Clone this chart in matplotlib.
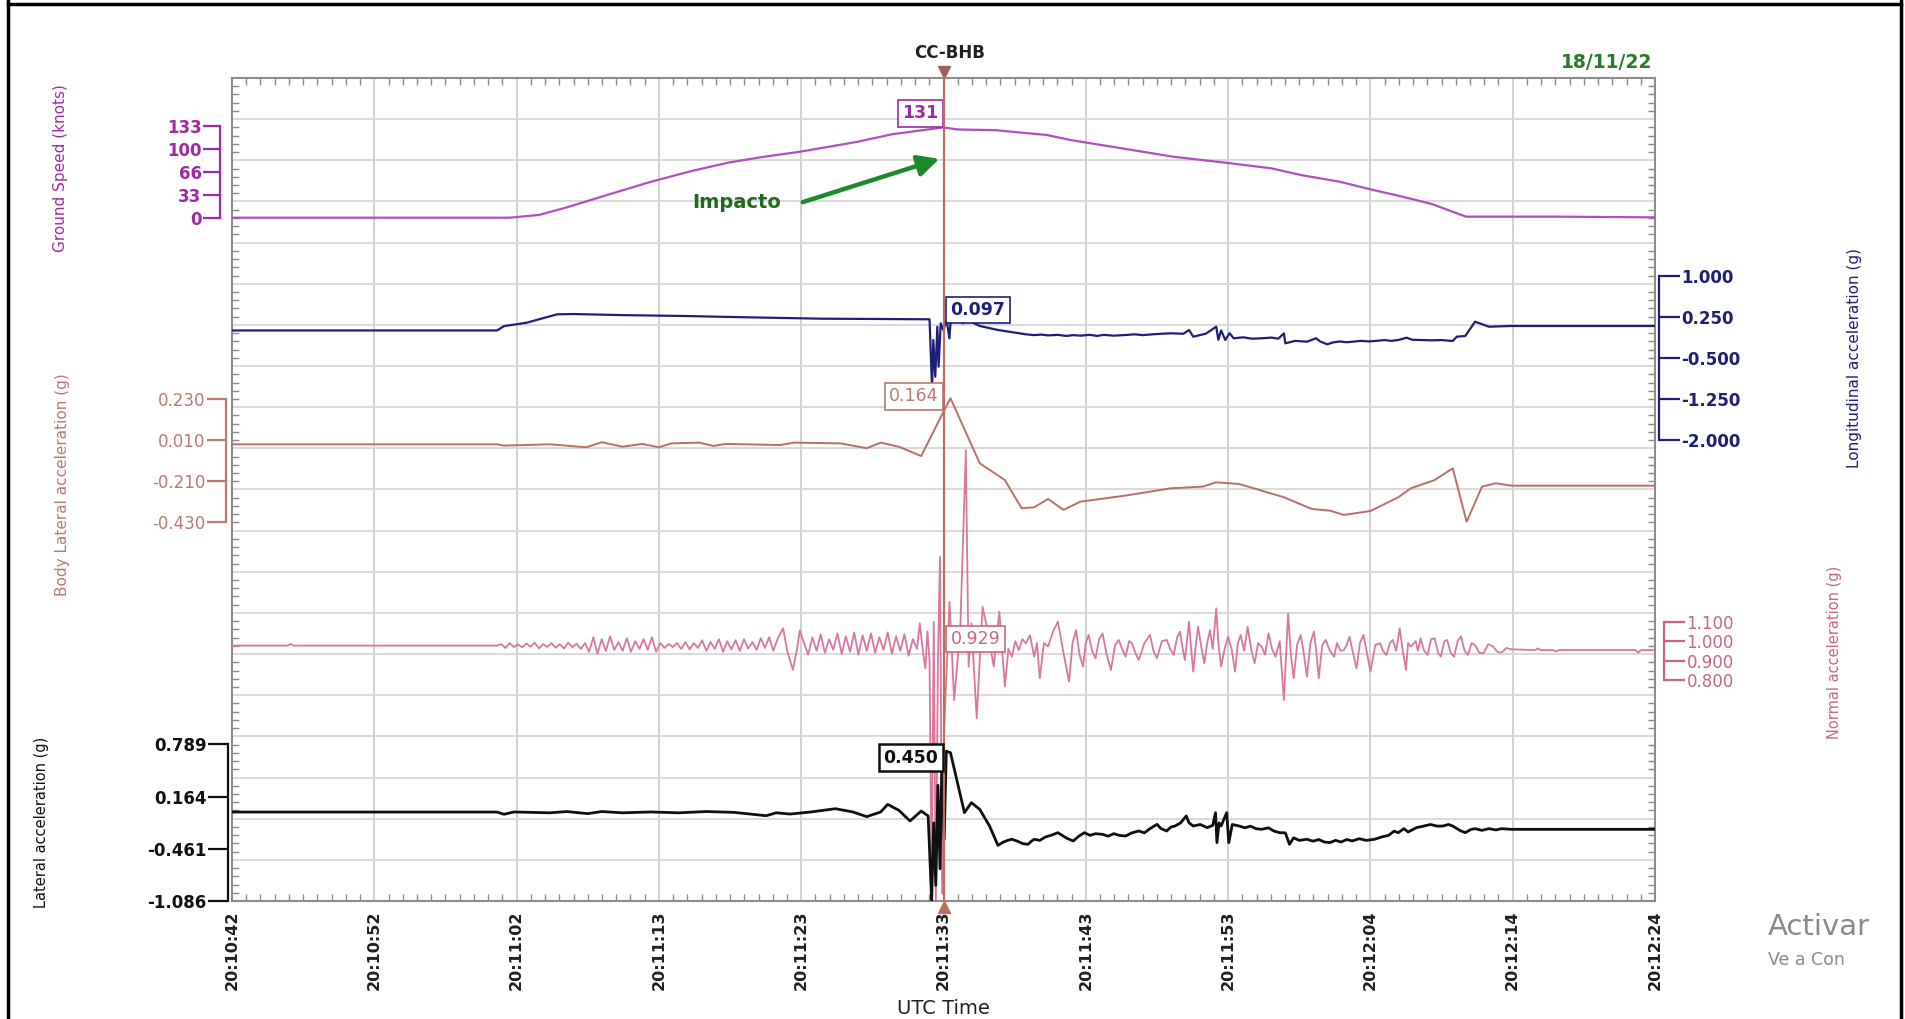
import numpy as np
import matplotlib
matplotlib.use('Agg')
import matplotlib.pyplot as plt
from matplotlib.ticker import MultipleLocator, NullLocator
from matplotlib.lines import Line2D
import matplotlib.transforms as mtransforms

W, H, DPI = 1905, 1019, 100

# ---------------- data ----------------
x_tick_pos = [0, 10.2, 20.4, 30.6, 40.8, 51.0, 61.2, 71.4, 81.6, 91.8, 102.0]
x_tick_labels = ['20:10:42', '20:10:52', '20:11:02', '20:11:13', '20:11:23', '20:11:33',
                 '20:11:43', '20:11:53', '20:12:04', '20:12:14', '20:12:24']
cursor_t = 51.0

gs_ticks = [0, 33, 66, 100, 133]
gs_t = [0, 19.9, 22, 24, 26.9, 30, 33, 35.6, 38, 40.7, 44.8, 47.3, 49.5, 51.0, 52.0, 54.7,
        58.4, 60.1, 63.8, 67.45, 71.6, 74.5, 76.6, 79.4, 81.8, 83.9, 86.0, 88.45, 95, 102]
gs_v = [0, 0, 4, 15, 33, 52, 68, 80, 88, 95.7, 110, 121, 127, 131, 128, 127,
        120, 112.7, 100.6, 88.5, 78.9, 71.6, 62, 52.2, 40.2, 30.5, 19.9, 1.5, 1.5, 0.5]

lon_ticks = [-2.0, -1.25, -0.5, 0.25, 1.0]
lon_t = [0, 19.0, 19.5, 21.1, 23.3, 24.5, 28, 32.5, 37, 42.3, 46, 50.0, 50.18, 50.27, 50.41,
         50.56, 50.65, 50.8, 50.99, 51.23, 51.42, 51.52, 51.95, 52.2, 52.4, 52.7, 53.6, 54.9,
         56.9, 57.5, 58.0, 58.5, 59.2, 59.8, 60.3, 60.8, 61.5, 62.0, 62.5, 63.2, 64.05, 64.7,
         65.3, 66, 66.6, 67.3, 68.2, 68.6, 68.9, 69.8, 70.55, 70.7, 70.9, 71.2, 71.5, 71.8,
         72.5, 73.1, 73.8, 74.5, 75.0, 75.4, 75.5, 76.2, 77.05, 77.7, 78.0, 78.5, 78.9, 79.4,
         79.9, 80.3, 80.9, 81.5, 82, 82.6, 83.1, 83.6, 84.2, 84.6, 85.2, 86.0, 86.7, 87.5,
         87.8, 88.4, 89.1, 90.1, 91.7, 102]
lon_v = [0.0, 0.0, 0.08, 0.14, 0.295, 0.30, 0.28, 0.264, 0.24, 0.215, 0.21, 0.204, -1.056,
         -0.174, -0.844, 0.069, -0.66, 0.131, 0.009, 0.19, -0.143, 0.19, 0.16, 0.19, 0.131,
         0.19, 0.082, 0.009, -0.070, -0.085, -0.075, -0.09, -0.08, -0.10, -0.085, -0.095,
         -0.08, -0.10, -0.08, -0.095, -0.083, -0.07, -0.085, -0.07, -0.06, -0.052, -0.06,
         0.009, -0.113, -0.06, 0.069, -0.17, 0.0, -0.174, -0.05, -0.143, -0.125, -0.15,
         -0.143, -0.13, -0.15, -0.052, -0.235, -0.19, -0.205, -0.143, -0.2, -0.253, -0.22,
         -0.2, -0.215, -0.205, -0.19, -0.2, -0.19, -0.175, -0.19, -0.174, -0.132, -0.17,
         -0.174, -0.18, -0.175, -0.192, -0.113, -0.101, 0.160, 0.069, 0.082, 0.082]

blat_ticks = [-0.43, -0.21, 0.01, 0.23]
blat_tick_labels = ['-0.430', '-0.210', '0.010', '0.230']
blat_t = [0, 19.0, 19.5, 22.8, 25.4, 26.5, 28.0, 29.4, 30.6, 31.5, 33.5, 34.5, 35.4, 39.3,
          40.3, 43.6, 45.5, 46.5, 47.8, 49.4, 51.0, 51.5, 53.6, 55.4, 56.6, 57.5, 58.5, 59.6,
          60.8, 64.05, 67.3, 69.6, 70.55, 72.2, 75.4, 77.4, 78.7, 79.7, 81.6, 83.6, 84.5,
          86.2, 87.5, 88.5, 89.6, 90.6, 91.7, 102]
blat_v = [-0.013, -0.013, -0.020, -0.013, -0.029, -0.002, -0.026, -0.011, -0.029, -0.008,
          -0.004, -0.022, -0.011, -0.017, -0.004, -0.008, -0.034, -0.004, -0.026, -0.076,
          0.162, 0.234, -0.115, -0.205, -0.356, -0.351, -0.306, -0.365, -0.321, -0.288,
          -0.249, -0.240, -0.217, -0.226, -0.297, -0.360, -0.369, -0.392, -0.371, -0.297,
          -0.249, -0.205, -0.142, -0.428, -0.240, -0.222, -0.235, -0.235]

nrm_ticks = [0.8, 0.9, 1.0, 1.1]
nrm_t = [0, 4.0, 4.2, 4.4, 19.0,
         19.3, 19.6, 19.9, 20.2, 20.5, 20.8, 21.1, 21.4, 21.7, 22.0, 22.3, 22.6, 22.9, 23.2,
         23.5, 23.8, 24.1, 24.4, 24.7, 25.0, 25.3,
         25.6, 25.9, 26.2, 26.5, 26.8, 27.1, 27.4, 27.7, 28.0, 28.3, 28.6, 28.9, 29.2, 29.5,
         29.8, 30.1, 30.4, 30.7, 31.0, 31.3, 31.6, 31.9, 32.2,
         32.5, 32.8, 33.1, 33.4, 33.7, 34.0, 34.3, 34.6, 34.9, 35.2, 35.5, 35.8, 36.1, 36.4,
         36.7, 37.0, 37.3, 37.6, 37.9, 38.2, 38.5, 38.8,
         39.1, 39.5, 39.8, 40.2, 40.5, 40.7, 41.0, 41.3,
         41.6, 41.9, 42.2, 42.5, 42.8, 43.1, 43.4, 43.7, 44.0, 44.3, 44.6, 44.9, 45.2, 45.5,
         45.8, 46.1, 46.4, 46.7, 47.0, 47.3, 47.6, 47.9, 48.2, 48.5, 48.8,
         49.1, 49.3, 49.55, 49.7, 49.85, 50.0, 50.15, 50.3, 50.45, 50.6, 50.75, 50.9, 51.04,
         51.43, 51.76, 52.2, 52.6, 52.8, 53.0, 53.38, 53.8, 54.13, 54.6, 55.0,
         55.4, 55.65, 55.9, 56.15, 56.4, 56.65, 56.9, 57.2, 57.5, 57.7, 57.9, 58.2, 58.5,
         58.85, 59.2, 59.6, 60.0, 60.25, 60.5, 60.75, 61.0, 61.2, 61.4, 61.65, 61.9, 62.15,
         62.4, 62.7, 63.0, 63.3, 63.56, 63.8, 64.05, 64.3, 64.5, 64.75, 65.0, 65.4, 65.8,
         66.05, 66.3, 66.65, 67.0, 67.25, 67.5, 67.75, 67.95, 68.15, 68.3, 68.45, 68.6,
         68.75, 68.9, 69.1, 69.25, 69.5, 69.7, 69.9, 70.1, 70.3, 70.55, 70.7, 70.9, 71.15,
         71.4, 71.65, 71.9, 72.1, 72.3, 72.55, 72.8, 73.05, 73.3, 73.55, 73.8, 74.05, 74.3,
         74.55, 74.8, 75.1, 75.4, 75.7, 75.9, 76.1, 76.35, 76.6, 76.8, 77.05, 77.3, 77.55,
         77.7, 77.9, 78.15, 78.4, 78.7, 79.0, 79.2, 79.45, 79.7, 79.9, 80.1, 80.35, 80.6,
         80.85, 81.1, 81.35, 81.6, 81.95, 82.3, 82.5, 82.75, 83.0, 83.2, 83.45, 83.7, 83.9,
         84.15, 84.3, 84.5, 84.85, 85.0, 85.2, 85.45, 85.7, 85.95, 86.2, 86.45, 86.65, 86.9,
         87.1, 87.35, 87.6, 87.85, 88.1, 88.35, 88.6, 88.85, 89.1, 89.4, 89.7, 90.05, 90.4,
         90.7, 91.0, 91.35, 91.7, 93.4, 93.6, 93.8, 94.7, 94.9, 95.1, 100.6, 100.8, 101.0,
         102]
nrm_v = [0.977, 0.977, 0.986, 0.977, 0.977,
         0.985, 0.965, 0.990, 0.970, 0.983, 0.968, 0.988, 0.972, 0.992, 0.962, 0.985, 0.970,
         0.990, 0.966, 0.984, 0.962, 0.993, 0.968, 0.987, 0.960, 0.990,
         0.945, 1.020, 0.935, 1.010, 0.950, 1.025, 0.955, 0.995, 0.950, 1.015, 0.945, 1.000,
         0.960, 1.010, 0.955, 1.020, 0.945, 0.990, 0.965, 0.985, 0.970, 0.990, 0.960,
         0.995, 0.958, 0.990, 0.965, 1.005, 0.950, 0.995, 0.960, 1.010, 0.945, 1.000, 0.958,
         1.005, 0.950, 1.010, 0.962, 0.995, 0.955, 1.015, 0.965, 1.020, 0.950,
         1.010, 1.066, 0.950, 0.852, 0.960, 1.055, 0.990, 0.930,
         1.020, 0.950, 1.035, 0.940, 1.010, 0.955, 1.040, 0.935, 1.025, 0.945, 1.045, 0.930,
         1.030, 0.950, 1.040, 0.940, 1.020, 0.955, 1.045, 0.935, 1.025, 0.950, 1.035, 0.925,
         1.010,
         0.960, 1.092, 0.930, 0.860, 1.050, 0.900, -0.300, 1.100, -0.350, 0.900, 1.434,
         -0.300, 0.534, 1.203, 0.697, 1.057, 1.983, 0.869, 1.092, 0.603, 1.177, 1.066, 0.869,
         1.152,
         0.766, 0.960, 0.920, 1.000, 0.954, 1.010, 0.989, 1.030, 0.920, 0.990, 0.809, 0.990,
         0.972, 1.050, 1.100, 0.940, 0.792, 0.990, 1.057, 0.930, 0.869, 0.990, 1.032, 0.950,
         0.912, 1.010, 1.040, 0.930, 0.852, 0.980, 1.006, 0.960, 0.920, 1.000, 0.989, 0.940,
         0.903, 0.990, 1.032, 0.950, 0.912, 1.000, 1.006, 0.960, 0.929, 1.020, 1.049, 0.960,
         0.903, 1.000, 1.100, 0.960, 0.843, 0.990, 1.074, 0.960, 0.886, 0.990, 1.057, 0.960,
         1.169, 0.990, 0.869, 0.960, 1.023, 0.960, 0.843, 0.990, 1.032, 0.950, 1.074, 0.960,
         0.886, 0.990, 0.972, 0.930, 1.040, 0.960, 0.920, 1.000, 0.697, 1.143, 0.930, 0.809,
         0.980, 1.032, 0.950, 0.817, 0.990, 1.049, 0.960, 0.809, 0.980, 1.006, 0.950, 0.920,
         0.990, 0.950, 0.954, 0.980, 1.023, 0.940, 0.860, 0.990, 1.032, 0.940, 0.843, 0.980,
         0.989, 0.950, 0.929, 0.990, 1.006, 0.950, 1.066, 0.960, 0.852, 0.990, 0.972, 1.000,
         0.950, 1.014, 0.950, 0.929, 1.010, 1.014, 0.940, 0.920, 1.000, 1.006, 0.940, 0.920,
         1.000, 1.023, 0.950, 0.929, 0.990, 0.980, 0.940, 0.937, 0.985, 0.972, 0.945, 0.941,
         0.965, 0.958, 0.954, 0.963, 0.954, 0.954, 0.946, 0.954, 0.954, 0.941, 0.954, 0.954]

lat_ticks = [-1.086, -0.461, 0.164, 0.789]
lat_tick_labels = ['-1.086', '-0.461', '0.164', '0.789']
lat_t = [0, 19.0, 19.5, 20.2, 22.8, 24.0, 25.5, 26.5, 28.0, 30.0, 32.0, 34.0, 36.0, 38.3,
         39.0, 40.0, 41.5, 43.25, 44.5, 45.5, 46.5, 47.0, 47.8, 48.6, 49.4, 49.9, 50.15, 50.3,
         50.45, 50.6, 50.75, 50.9, 51.05, 51.2, 51.5, 52.0, 52.5, 53.0, 53.6, 54.3, 54.9,
         55.3, 55.6, 55.9, 56.3, 56.7, 57.06, 57.3, 57.5, 57.9, 58.3, 58.7, 59.0, 59.2, 59.5,
         59.9, 60.3, 60.7, 61.1, 61.5, 61.9, 62.4, 62.8, 63.2, 63.6, 64.05, 64.5, 65.0, 65.4,
         65.8, 66.3, 66.6, 67.0, 67.3, 67.6, 68.0, 68.4, 68.6, 68.9, 69.4, 69.9, 70.3, 70.5,
         70.6, 70.75, 70.9, 71.3, 71.45, 71.7, 72.2, 72.6, 73.0, 73.4, 73.8, 74.3, 74.7, 75.1,
         75.5, 75.8, 76.1, 76.5, 77.05, 77.5, 77.9, 78.3, 78.7, 79.1, 79.5, 79.9, 80.3, 80.8,
         81.3, 81.9, 82.4, 82.9, 83.3, 83.6, 84.0, 84.3, 84.9, 85.4, 85.9, 86.4, 86.8, 87.2,
         87.5, 88.0, 88.4, 88.8, 89.1, 89.6, 90.1, 90.6, 91.0, 91.7, 102]
lat_v = [-0.021, -0.021, -0.048, -0.02, -0.03, -0.015, -0.04, -0.015, -0.03, -0.02, -0.03,
         -0.015, -0.025, -0.065, -0.03, -0.045, -0.02, 0.019, -0.02, -0.076, -0.02, 0.071,
         0.0, -0.128, -0.009, -0.068, -1.08, -0.15, -0.90, 0.30, -0.70, 0.72, -0.35, 0.709,
         0.689, 0.33, -0.028, 0.091, 0.011, -0.188, -0.419,
         -0.38, -0.36, -0.347, -0.37, -0.40, -0.407, -0.37, -0.347, -0.36, -0.32, -0.30,
         -0.28, -0.268, -0.30, -0.34, -0.367, -0.31, -0.268, -0.30, -0.28, -0.288, -0.31,
         -0.28, -0.30, -0.308, -0.27, -0.248, -0.27, -0.22, -0.168, -0.22, -0.248, -0.20,
         -0.188, -0.15, -0.068, -0.15, -0.188, -0.17, -0.208, -0.18, -0.028, -0.387, -0.15,
         -0.188, -0.028, -0.387, -0.17, -0.188, -0.21, -0.19, -0.22, -0.228, -0.21, -0.25,
         -0.268, -0.27, -0.407, -0.33, -0.36, -0.347, -0.37, -0.35, -0.38, -0.387, -0.36,
         -0.38, -0.35, -0.367, -0.34, -0.36, -0.347, -0.32, -0.30, -0.25, -0.268, -0.22,
         -0.26, -0.208, -0.19, -0.17, -0.19, -0.188, -0.17, -0.188, -0.24, -0.268, -0.23,
         -0.22, -0.24, -0.22, -0.235, -0.22, -0.228, -0.228]

cursor_values = {'gs': '131', 'lon': '0.097', 'blat': '0.164', 'nrm': '0.929', 'lat': '0.450'}

# ---------------- colours ----------------
C_GS, C_GS_T = '#b050c0', '#a02aa6'
C_LON = '#1f1f78'
C_BLAT, C_BLAT_T = '#b87068', '#b87a72'
C_NRM, C_NRM_T = '#d9779d', '#c86487'
C_LAT = '#101010'
C_CUR = '#b8705f'

plt.rcParams['font.family'] = ['DejaVu Sans']

fig = plt.figure(figsize=(W / DPI, H / DPI), dpi=DPI)
fig.patch.set_facecolor('white')
L, R, T, B = 232, 1655, 78, 901
ax = fig.add_axes([L / W, 1 - B / H, (R - L) / W, (B - T) / H])
ax.set_xlim(0, 102)
ax.set_ylim(0, 20)

PX = 0.72  # points per pixel


def make_scale(side, offset_px, ylim, ticks, labels, color, weight, ticklen_px, size=12):
    a = ax.twinx()
    a.set_ylim(*ylim)
    for s in a.spines.values():
        s.set_visible(False)
    sp = a.spines[side]
    sp.set_visible(True)
    sp.set_position(('outward', offset_px * PX))
    sp.set_bounds(min(ticks), max(ticks))
    sp.set_color(color)
    sp.set_linewidth(1.6)
    if side == 'left':
        a.yaxis.tick_left()
    else:
        a.yaxis.tick_right()
    a.set_yticks(ticks)
    a.set_yticklabels(labels)
    a.yaxis.set_minor_locator(NullLocator())
    a.tick_params(axis='y', which='major', direction='out', length=ticklen_px * PX,
                  width=1.6, color=color, labelcolor=color, labelsize=size, pad=1)
    for t in a.get_yticklabels():
        t.set_fontweight(weight)
    return a


def y_limits(v0, y0, s):
    return (v0 - (B - y0) / s, v0 + (y0 - T) / s)


ax_gs = make_scale('left', 12, y_limits(0, 217.7, 0.6893), gs_ticks,
                   [str(v) for v in gs_ticks], C_GS_T, 'bold', 17)
ax_lon = make_scale('right', 4, y_limits(1.0, 275.7, 54.77), lon_ticks,
                    ['%.3f' % v for v in lon_ticks], C_LON, 'bold', 21)
ax_blat = make_scale('left', 6, y_limits(0.23, 399, 186.4), blat_ticks,
                     blat_tick_labels, C_BLAT_T, 'normal', 19)
ax_nrm = make_scale('right', 9, y_limits(1.1, 621.7, 194.4), nrm_ticks,
                    ['%.3f' % v for v in nrm_ticks], C_NRM_T, 'normal', 21)
ax_lat = make_scale('left', 4, y_limits(0.789, 745, 83.6), lat_ticks,
                    lat_tick_labels, C_LAT, 'bold', 20)

# traces
ax_gs.plot(gs_t, gs_v, color=C_GS, lw=1.6)
ax_lon.plot(lon_t, lon_v, color=C_LON, lw=1.6)
ax_blat.plot(blat_t, blat_v, color=C_BLAT, lw=1.4)
ax_nrm.plot(nrm_t, nrm_v, color=C_NRM, lw=1.3)
ax_lat.plot(lat_t, lat_v, color=C_LAT, lw=2.0)

# main axis frame / grid (after twins, which reset tick sides)
ax.set_xticks(x_tick_pos)
ax.set_xticklabels(x_tick_labels, rotation=90, fontweight='bold', fontsize=11.5,
                   color='#202020')
ax.xaxis.set_minor_locator(MultipleLocator(1.02))
ax.set_yticks(range(21))
ax.set_yticklabels([])
ax.yaxis.set_minor_locator(MultipleLocator(0.2))
ax.tick_params(which='both', direction='in', top=True, bottom=True, left=True, right=True)
ax.tick_params(which='major', length=0, pad=7)
ax.tick_params(which='minor', length=5, width=1, color='#8c8c8c')
ax.xaxis.grid(True, which='major', color='#c8c8c8', lw=1.2)
ax.yaxis.grid(True, which='major', color='#d8d8d8', lw=1.3)
for s in ax.spines.values():
    s.set_color('#8c8c8c')
    s.set_linewidth(1.5)
ax.set_xlabel('UTC Time', fontsize=14, color='#202020', labelpad=6)

# cursor
ax_lat.axvline(cursor_t, color=C_CUR, lw=1.6, zorder=10)
top_tr = mtransforms.offset_copy(ax.get_xaxis_transform(), fig=fig, y=6, units='dots')
bot_tr = mtransforms.offset_copy(ax.get_xaxis_transform(), fig=fig, y=-6, units='dots')
ax.plot([cursor_t], [1.0], marker='v', ms=8, color='#a0605a', transform=top_tr, clip_on=False)
ax.plot([cursor_t], [0.0], marker='^', ms=8, color=C_CUR, transform=bot_tr, clip_on=False)
ax.annotate('CC-BHB', xy=(cursor_t, 1.0), xycoords=ax.get_xaxis_transform(),
            xytext=(6, 25), textcoords='offset pixels', ha='center', va='center',
            fontsize=12, fontweight='bold', color='#202020')

fig.text(1652 / W, 1 - 63 / H, '18/11/22', ha='right', va='center', fontsize=13.5,
         fontweight='bold', color='#2a7a2a')


# cursor value boxes
def vbox(a, val, txt, color, side, dy, lw=1.2, weight='normal'):
    dx = -5 if side == 'left' else 7
    a.annotate(txt, xy=(cursor_t, val), xytext=(dx, dy), textcoords='offset pixels',
               ha='right' if side == 'left' else 'left', va='bottom', fontsize=12.5,
               color=color, fontweight=weight, zorder=20,
               bbox=dict(boxstyle='square,pad=0.25', fc='white', ec=color, lw=lw))


vbox(ax_gs, 131, cursor_values['gs'], C_GS_T, 'left', 5, weight='bold')
vbox(ax_lon, 0.097, cursor_values['lon'], C_LON, 'right', 6, weight='bold')
vbox(ax_blat, 0.164, cursor_values['blat'], C_BLAT_T, 'left', 6)
vbox(ax_nrm, 0.929, cursor_values['nrm'], C_NRM_T, 'right', 7)
vbox(ax_lat, 0.450, cursor_values['lat'], C_LAT, 'left', 6, lw=1.8, weight='bold')

# Impacto arrow
ax.annotate('', xy=(942, H - 158), xycoords='figure pixels', xytext=(800, H - 203),
            textcoords='figure pixels',
            arrowprops=dict(arrowstyle='-|>', color='#1a8a2a', lw=3.2, mutation_scale=32))
fig.text(737 / W, 1 - 203 / H, 'Impacto', ha='center', va='center', fontsize=14,
         fontweight='bold', color='#1f6a1f')


# axis titles
def vlabel(x, y, txt, color, size=11):
    fig.text(x / W, 1 - y / H, txt, rotation=90, ha='center', va='center', fontsize=size,
             color=color)


vlabel(60, 168, 'Ground Speed (knots)', C_GS_T)
vlabel(62, 485, 'Body Lateral acceleration (g)', C_BLAT_T)
vlabel(42, 822, 'Lateral acceleration (g)', '#101010', 10.5)
vlabel(1855, 358, 'Longitudinal acceleration (g)', C_LON)
vlabel(1835, 652, 'Normal acceleration (g)', C_NRM_T, 10.5)

# screenshot frame and watermark
for xs, ys in [([8, 8], [0, H]), ([1901, 1901], [0, H]), ([8, 1901], [4, 4])]:
    fig.add_artist(Line2D([v / W for v in xs], [1 - v / H for v in ys], color='black',
                          lw=2.5, transform=fig.transFigure))
fig.text(1768 / W, 1 - 927 / H, 'Activar', ha='left', va='center', fontsize=21, color='#8a8a8a')
fig.text(1768 / W, 1 - 960 / H, 'Ve a Con', ha='left', va='center', fontsize=12.5,
         color='#8a8a8a')

fig.savefig('out.png', dpi=DPI)
